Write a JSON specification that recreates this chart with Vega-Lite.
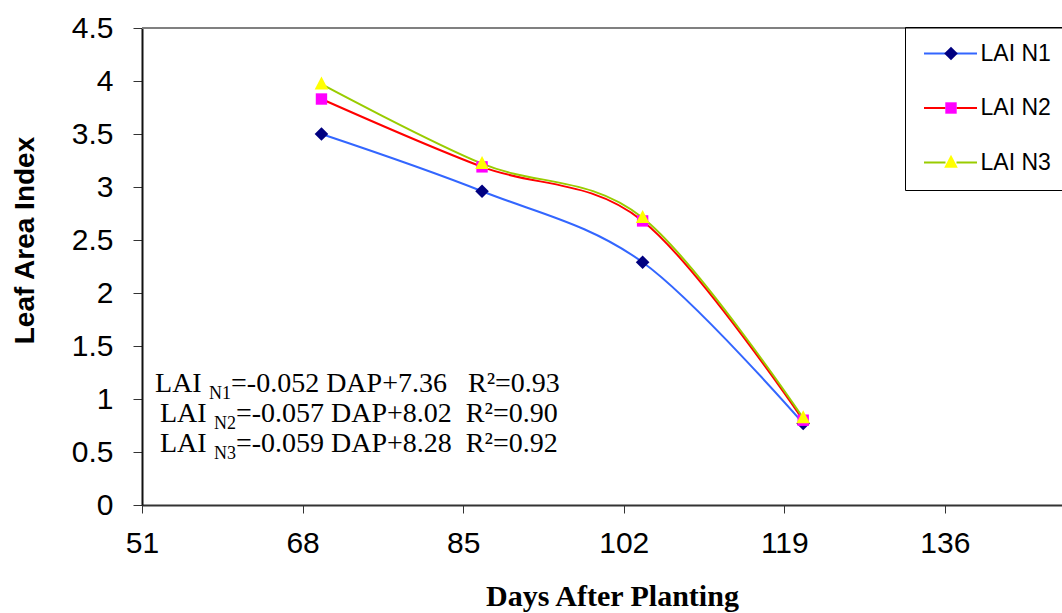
{
  "$schema": "https://vega.github.io/schema/vega-lite/v6.json",
  "width": 920,
  "height": 477,
  "autosize": {"type": "none"},
  "padding": {"left": 142, "top": 28, "right": 0, "bottom": 108},
  "background": "white",
  "config": {"view": {"stroke": null}, "font": "Liberation Sans"},
  "datasets": {
    "lai": [
      {"series": "LAI N1", "dap": 70, "lai": 3.50},
      {"series": "LAI N1", "dap": 87, "lai": 2.96},
      {"series": "LAI N1", "dap": 104, "lai": 2.29},
      {"series": "LAI N1", "dap": 121, "lai": 0.77},
      {"series": "LAI N2", "dap": 70, "lai": 3.83},
      {"series": "LAI N2", "dap": 87, "lai": 3.19},
      {"series": "LAI N2", "dap": 104, "lai": 2.68},
      {"series": "LAI N2", "dap": 121, "lai": 0.80},
      {"series": "LAI N3", "dap": 70, "lai": 3.97},
      {"series": "LAI N3", "dap": 87, "lai": 3.22},
      {"series": "LAI N3", "dap": 104, "lai": 2.71},
      {"series": "LAI N3", "dap": 121, "lai": 0.82}
    ],
    "eq": [
      {"ax": 52.38, "ay": 1.069, "pre": "LAI", "sub": "N1", "rest": "=-0.052 DAP+7.36\u00a0\u00a0\u00a0R\u00b2=0.93"},
      {"ax": 52.9, "ay": 0.786, "pre": "LAI", "sub": "N2", "rest": "=-0.057 DAP+8.02\u00a0\u00a0R\u00b2=0.90"},
      {"ax": 52.9, "ay": 0.503, "pre": "LAI", "sub": "N3", "rest": "=-0.059 DAP+8.28\u00a0\u00a0R\u00b2=0.92"}
    ]
  },
  "layer": [
    {
      "data": {"values": [{}]},
      "mark": {"type": "rule", "color": "#808080", "strokeWidth": 2},
      "encoding": {"y": {"datum": 4.5, "type": "quantitative"}}
    },
    {
      "data": {"name": "lai"},
      "mark": {"type": "line", "interpolate": "cardinal", "strokeWidth": 2},
      "encoding": {
        "x": {
          "field": "dap", "type": "quantitative",
          "scale": {"domain": [51, 148.4], "nice": false, "zero": false},
          "axis": {
            "title": "Days After Planting",
            "values": [51, 68, 85, 102, 119, 136],
            "labelExpr": "'' + datum.value",
            "grid": false,
            "domainColor": "#333333", "domainWidth": 2,
            "tickColor": "#333333", "tickWidth": 1, "tickSize": 8,
            "labelFont": "Liberation Sans", "labelFontSize": 30, "labelColor": "#000000",
            "labelPadding": 15, "labelFlush": false, "labelOverlap": false,
            "titleFont": "Liberation Serif", "titleFontSize": 30, "titleFontWeight": "bold", "titleColor": "#000000",
            "titleX": 470, "titleY": 100, "titleAlign": "center", "titleBaseline": "alphabetic", "titleAnchor": null
          }
        },
        "y": {
          "field": "lai", "type": "quantitative",
          "scale": {"domain": [0, 4.5], "nice": false},
          "axis": {
            "title": "Leaf Area Index",
            "values": [0, 0.5, 1, 1.5, 2, 2.5, 3, 3.5, 4, 4.5],
            "labelExpr": "'' + datum.value",
            "grid": false,
            "domainColor": "#111111", "domainWidth": 2,
            "tickColor": "#333333", "tickWidth": 1, "tickSize": 9,
            "labelFont": "Liberation Sans", "labelFontSize": 30, "labelColor": "#000000",
            "labelPadding": 20, "labelOverlap": false, "labelFlush": false,
            "titleFont": "Liberation Sans", "titleFontSize": 28, "titleFontWeight": "bold", "titleColor": "#000000",
            "titleX": -109, "titleY": 212, "titleAngle": -90, "titleAlign": "center", "titleBaseline": "alphabetic", "titleAnchor": null
          }
        },
        "color": {
          "field": "series", "type": "nominal",
          "scale": {"domain": ["LAI N1", "LAI N2", "LAI N3"], "range": ["#3366FF", "#FF0000", "#99CC00"]},
          "legend": {
            "title": null, "orient": "none", "legendX": 763, "legendY": -1, "direction": "vertical",
            "symbolType": "M-2.7,0H-0.55M0.55,0H2.6", "symbolSize": 400, "symbolStrokeWidth": 2,
            "symbolFillColor": "transparent", "symbolOffset": 19.5,
            "labelFont": "Liberation Sans", "labelFontSize": 23, "labelColor": "#000000", "labelOffset": 18,
            "labelExpr": "datum.label + '\u00a0\u00a0\u00a0\u00a0\u00a0'",
            "rowPadding": 30.5, "padding": 15, "strokeColor": "#000000", "cornerRadius": 0
          }
        }
      }
    },
    {
      "data": {"name": "lai"},
      "mark": {"type": "point", "filled": true, "opacity": 1, "size": 400, "strokeWidth": 0},
      "encoding": {
        "x": {"field": "dap", "type": "quantitative"},
        "y": {"field": "lai", "type": "quantitative"},
        "fill": {
          "field": "series", "type": "nominal",
          "scale": {"range": ["#000080", "#FF00FF", "#FFFF00"]},
          "legend": {
            "title": null, "orient": "none", "legendX": 763, "legendY": -1, "direction": "vertical",
            "symbolSize": 400, "symbolStrokeWidth": 0, "symbolOffset": 19.5,
            "labelFont": "Liberation Sans", "labelFontSize": 23, "labelOpacity": 0, "labelOffset": 18,
            "labelExpr": "datum.label + '\u00a0\u00a0\u00a0\u00a0\u00a0'",
            "rowPadding": 30.5, "padding": 15
          }
        },
        "shape": {
          "field": "series", "type": "nominal",
          "scale": {"range": ["M0,-0.68L0.68,0L0,0.68L-0.68,0Z", "M-0.57,-0.57H0.57V0.57H-0.57Z", "M0,-0.78L0.68,0.52L-0.68,0.52Z"]},
          "legend": {
            "title": null, "orient": "none", "legendX": 763, "legendY": -1, "direction": "vertical",
            "symbolSize": 400, "symbolStrokeWidth": 0, "symbolOffset": 19.5,
            "labelFont": "Liberation Sans", "labelFontSize": 23, "labelOpacity": 0, "labelOffset": 18,
            "labelExpr": "datum.label + '\u00a0\u00a0\u00a0\u00a0\u00a0'",
            "rowPadding": 30.5, "padding": 15
          }
        }
      }
    },
    {
      "data": {"name": "eq"},
      "mark": {"type": "text", "align": "left", "baseline": "alphabetic", "font": "Liberation Serif", "fontSize": 28, "color": "#000000"},
      "encoding": {
        "x": {"field": "ax", "type": "quantitative"},
        "y": {"field": "ay", "type": "quantitative"},
        "text": {"field": "pre"}
      }
    },
    {
      "data": {"name": "eq"},
      "mark": {"type": "text", "align": "left", "baseline": "alphabetic", "font": "Liberation Serif", "fontSize": 18, "dx": 54, "dy": 7, "color": "#000000"},
      "encoding": {
        "x": {"field": "ax", "type": "quantitative"},
        "y": {"field": "ay", "type": "quantitative"},
        "text": {"field": "sub"}
      }
    },
    {
      "data": {"name": "eq"},
      "mark": {"type": "text", "align": "left", "baseline": "alphabetic", "font": "Liberation Serif", "fontSize": 28, "dx": 76, "color": "#000000"},
      "encoding": {
        "x": {"field": "ax", "type": "quantitative"},
        "y": {"field": "ay", "type": "quantitative"},
        "text": {"field": "rest"}
      }
    }
  ]
}
